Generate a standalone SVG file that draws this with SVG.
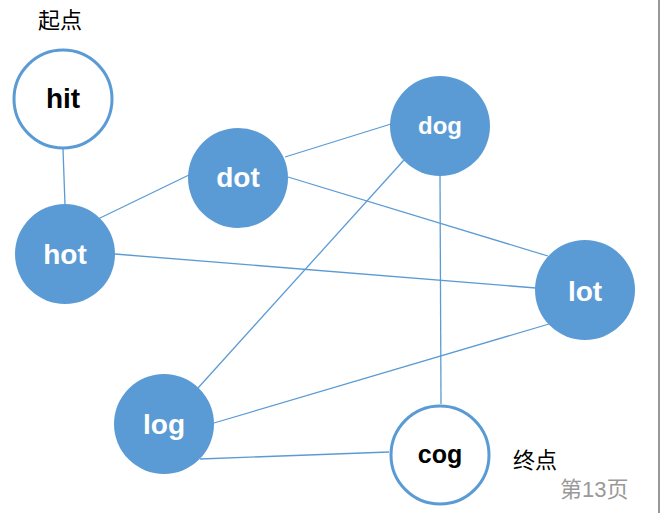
<svg xmlns="http://www.w3.org/2000/svg" width="660" height="513" viewBox="0 0 660 513">
<style>
.e{stroke:#5B9BD5;stroke-width:1.3;fill:none}
.f{fill:#5B9BD5}
.o{fill:#fff;stroke:#5B9BD5;stroke-width:3}
.t{font-family:"Liberation Sans",Arial,sans-serif;font-weight:bold;text-anchor:middle}
.w{fill:#fff}
.k{fill:#000}
.c{font-family:"Liberation Sans","Noto Sans CJK SC",sans-serif;font-size:22px}
</style>
<rect width="660" height="513" fill="#fff"/>
<line x1="659" y1="0" x2="659" y2="513" stroke="#333" stroke-width="1"/>
<g id="edges">
<line class="e" x1="63" y1="149" x2="65" y2="205"/>
<line class="e" x1="98" y1="219" x2="191" y2="174"/>
<line class="e" x1="285" y1="157" x2="391" y2="124"/>
<line class="e" x1="288" y1="177" x2="548" y2="256"/>
<line class="e" x1="115" y1="254" x2="536" y2="288"/>
<line class="e" x1="404" y1="160" x2="198" y2="388"/>
<line class="e" x1="440" y1="175" x2="441" y2="404"/>
<line class="e" x1="549" y1="324" x2="214" y2="423"/>
<line class="e" x1="200" y1="459" x2="389" y2="452"/>
</g>
<g id="hit"><circle class="o" cx="63" cy="99" r="49"/><text class="t k" x="63" y="108" font-size="28">hit</text></g>
<g id="hot"><circle class="f" cx="65" cy="254" r="50"/><text class="t w" x="65" y="264" font-size="28">hot</text></g>
<g id="dot"><circle class="f" cx="238" cy="178" r="50"/><text class="t w" x="238" y="187" font-size="28">dot</text></g>
<g id="dog"><circle class="f" cx="440" cy="126" r="50"/><text class="t w" x="440" y="134" font-size="24">dog</text></g>
<g id="lot"><circle class="f" cx="585" cy="290" r="50"/><text class="t w" x="585" y="301" font-size="28">lot</text></g>
<g id="log"><circle class="f" cx="164" cy="424" r="50"/><text class="t w" x="164" y="434" font-size="28">log</text></g>
<g id="cog"><circle class="o" cx="440" cy="455" r="49"/><text class="t k" x="440" y="463" font-size="25">cog</text></g>
<text class="c" x="38" y="28" fill="#000">起点</text>
<text class="c" x="513" y="468" fill="#000">终点</text>
<text class="c" x="560" y="497" fill="#999">第13页</text>
</svg>
